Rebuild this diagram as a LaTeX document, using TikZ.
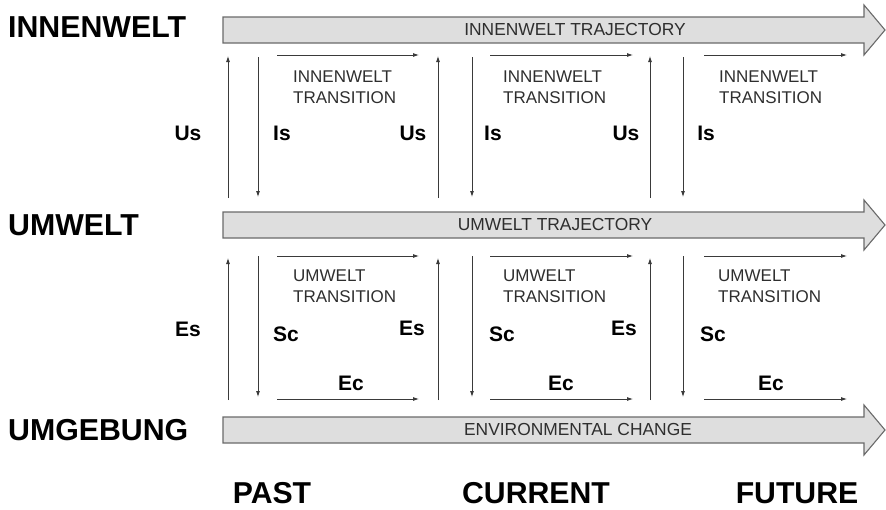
\documentclass[tikz,border=0pt]{standalone}
\usepackage{fontspec}
\setmainfont{Liberation Sans}
\usetikzlibrary{arrows.meta}
\definecolor{bandfill}{HTML}{DEDEDE}
\definecolor{bandline}{HTML}{6A6A6A}
\definecolor{thinline}{HTML}{3A3A3A}
\definecolor{softtext}{HTML}{2E2E2E}
\tikzset{
  bigarrow/.style={fill=bandfill, draw=bandline, line width=1.1pt, line join=miter},
  bandtext/.style={inner sep=0pt, text=softtext, font=\fontsize{17.4}{20}\selectfont},
  rowlabel/.style={inner sep=0pt, anchor=west, font=\fontsize{30.3}{34}\selectfont\bfseries},
  timelabel/.style={inner sep=0pt, font=\fontsize{30.2}{34}\selectfont\bfseries},
  flowlabel/.style={inner sep=0pt, font=\fontsize{21}{24}\selectfont\bfseries},
  transtext/.style={inner sep=0pt, anchor=north west, align=left, text=softtext,
    font=\fontsize{17}{20.5}\selectfont},
  thin/.style={draw=thinline, line width=0.8pt, -{Latex[length=6pt,width=4pt]}}
}
\begin{document}
\begin{tikzpicture}[x=1pt,y=-1pt]
\useasboundingbox (0,0) rectangle (886,509);

% level names
\node[rowlabel] (lInnen) at (8,27) {INNENWELT};
\node[rowlabel] (lUm) at (8,225) {UMWELT};
\node[rowlabel] (lUmg) at (8,430) {UMGEBUNG};

% wide trajectory arrows
\draw[bigarrow] (223,17) -- (864,17) -- (864,5) -- (885,30) -- (864,55) -- (864,43) -- (223,43) -- cycle;
\node[bandtext] (tInnen) at (575,30) {INNENWELT TRAJECTORY};
\draw[bigarrow] (223,212) -- (864,212) -- (864,200) -- (885,225) -- (864,250) -- (864,238) -- (223,238) -- cycle;
\node[bandtext] (tUm) at (555,225) {UMWELT TRAJECTORY};
\draw[bigarrow] (223,417) -- (864,417) -- (864,405) -- (885,430) -- (864,455) -- (864,443) -- (223,443) -- cycle;
\node[bandtext] (tEnv) at (578,430) {ENVIRONMENTAL CHANGE};

% transition columns: up arrow, down arrow, horizontal arrows
\foreach \u/\d/\s/\e/\n in {228/258/277/419/a, 438/472/490/633/b, 650/683/704/847/c}{
  % upper band
  \coordinate (iu\n0) at (\u,198);
  \coordinate (iu\n1) at (\u,56);
  \coordinate (id\n0) at (\d,57);
  \coordinate (id\n1) at (\d,197);
  \coordinate (ih\n0) at (\s,55);
  \coordinate (ih\n1) at (\e,55);
  \draw[thin] (iu\n0) -- (iu\n1);
  \draw[thin] (id\n0) -- (id\n1);
  \draw[thin] (ih\n0) -- (ih\n1);
  % lower band
  \coordinate (uu\n0) at (\u,400);
  \coordinate (uu\n1) at (\u,258);
  \coordinate (ud\n0) at (\d,256);
  \coordinate (ud\n1) at (\d,397);
  \coordinate (uh\n0) at (\s,256);
  \coordinate (uh\n1) at (\e,256);
  \coordinate (ue\n0) at (\s,399);
  \coordinate (ue\n1) at (\e,399);
  \draw[thin] (uu\n0) -- (uu\n1);
  \draw[thin] (ud\n0) -- (ud\n1);
  \draw[thin] (uh\n0) -- (uh\n1);
  \draw[thin] (ue\n0) -- (ue\n1);
}

% transition texts
\node[transtext] (itA) at (293,71) {INNENWELT\\TRANSITION};
\node[transtext] (itB) at (503,71) {INNENWELT\\TRANSITION};
\node[transtext] (itC) at (719,71) {INNENWELT\\TRANSITION};
\node[transtext] (utA) at (293,270) {UMWELT\\TRANSITION};
\node[transtext] (utB) at (503,270) {UMWELT\\TRANSITION};
\node[transtext] (utC) at (718,270) {UMWELT\\TRANSITION};

% flow labels, upper band
\node[flowlabel] (usA) at (188,133) {Us};
\node[flowlabel] (isA) at (282,133) {Is};
\node[flowlabel] (usB) at (413,133) {Us};
\node[flowlabel] (isB) at (493,133) {Is};
\node[flowlabel] (usC) at (626,133) {Us};
\node[flowlabel] (isC) at (706,133) {Is};

% flow labels, lower band
\node[flowlabel] (esA) at (188,329) {Es};
\node[flowlabel] (scA) at (286,334) {Sc};
\node[flowlabel] (esB) at (412,328) {Es};
\node[flowlabel] (ecA) at (351,383) {Ec};
\node[flowlabel] (scB) at (502,334) {Sc};
\node[flowlabel] (esC) at (624,328) {Es};
\node[flowlabel] (ecB) at (561,383) {Ec};
\node[flowlabel] (scC) at (713,334) {Sc};
\node[flowlabel] (ecC) at (771,383) {Ec};

% time axis
\node[timelabel] (past) at (272,493) {PAST};
\node[timelabel] (now) at (536,493) {CURRENT};
\node[timelabel] (future) at (797,493) {FUTURE};
\end{tikzpicture}
\end{document}
